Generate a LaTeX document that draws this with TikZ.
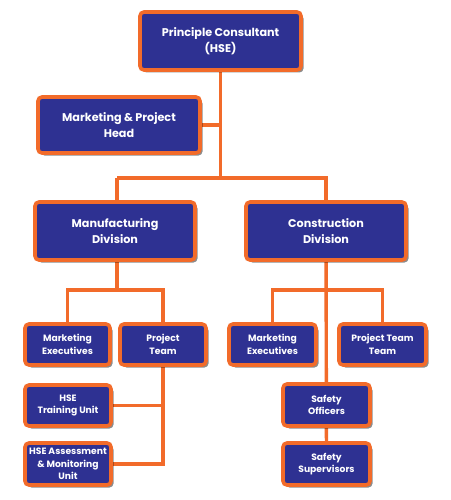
\documentclass[tikz,border=0pt]{standalone}
\usepackage{fontspec}
\setmainfont{Poppins}
\usetikzlibrary{shadows}
\definecolor{boxblue}{HTML}{2E3192}
\definecolor{lineorange}{HTML}{F26B2A}
\pgfdeclarelayer{bg}
\pgfsetlayers{bg,main}
\tikzset{
  box/.style={draw=lineorange, line width=3.6pt, fill=boxblue, rounded corners=4pt,
    text=white, font=\bfseries\fontsize{11.2}{16}\selectfont, align=center, inner sep=1pt,
    drop shadow={shadow xshift=2.5pt, shadow yshift=-2.5pt, fill=black, opacity=0.45}},
  small/.style={box, font=\bfseries\fontsize{9.2}{12.5}\selectfont},
  conn/.style={draw=lineorange, line width=3.4pt},
}
\begin{document}
\begin{tikzpicture}[x=1pt,y=-1pt]
\useasboundingbox (0,0) rectangle (450,500);
\node[box, minimum width=161pt, minimum height=58pt] (pc) at (220.5,41) {Principle Consultant\\(HSE)};
\node[box, minimum width=162pt, minimum height=56pt] (mph) at (119,125) {Marketing \& Project\\Head};
\node[box, minimum width=160pt, minimum height=58pt] (md) at (115,231) {Manufacturing\\Division};
\node[box, minimum width=160pt, minimum height=58pt] (cd) at (326,231) {Construction\\Division};
\node[small, minimum width=85pt, minimum height=41pt] (me1) at (67.5,344.5) {Marketing\\Executives};
\node[small, minimum width=86pt, minimum height=41pt] (pt1) at (163,344.5) {Project\\Team};
\node[small, minimum width=86pt, minimum height=41pt] (hse1) at (68,405.5) {HSE\\Training Unit};
\node[small, minimum width=86pt, minimum height=42pt] (hse2) at (68,464) {HSE Assessment\\\& Monitoring\\Unit};
\node[small, minimum width=87pt, minimum height=41pt] (me2) at (272.5,344.5) {Marketing\\Executives};
\node[small, minimum width=87pt, minimum height=41pt] (pt2) at (382.5,344.5) {Project Team\\Team};
\node[small, minimum width=87pt, minimum height=42pt] (so) at (326.5,405) {Safety\\Officers};
\node[small, minimum width=87pt, minimum height=42pt] (ss) at (326.5,464) {Safety\\Supervisors};
\coordinate (j1) at (220.5,178);
\coordinate (j1l) at (117,178);
\coordinate (j2) at (117,290);
\coordinate (j3) at (326.5,290);
\begin{pgfonlayer}{bg}
\fill[white] (0,0) rectangle (450,500);
\draw[conn] (pc.center) -- (j1);
\draw[conn] (mph.center) -- (mph.center -| j1);
\draw[conn] (j1l) -- (cd.center |- j1) -- (cd.center);
\draw[conn] (j1l) -- (j2);
\draw[conn] (me1.center) |- (j2) -| (pt1.center);
\draw[conn] (pt1.center) -- (pt1.center |- hse2.center) -- (hse2.center);
\draw[conn] (hse1.center) -- (hse1.center -| pt1.center);
\draw[conn] (cd.center) -- (ss.center);
\draw[conn] (me2.center) |- (j3) -| (pt2.center);
\end{pgfonlayer}
\end{tikzpicture}
\end{document}
